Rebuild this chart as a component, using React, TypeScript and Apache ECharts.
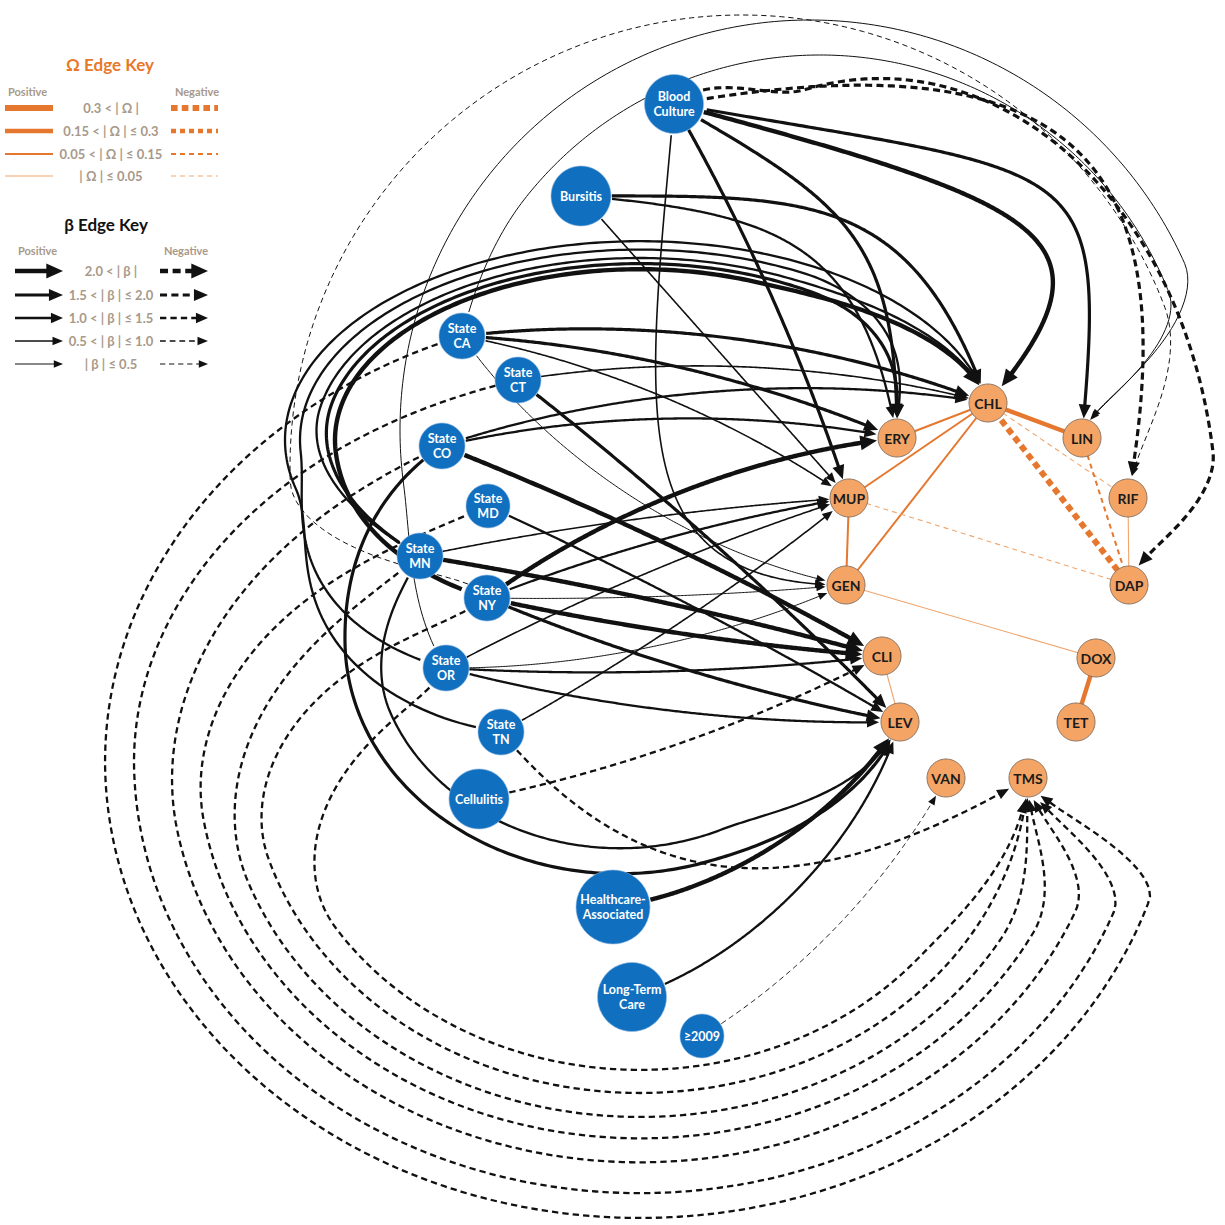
import React, { useEffect, useRef } from "react";
import * as echarts from "echarts";

// ---------------- data ----------------
const nodeIds = ["BC","BUR","CA","CT","CO","MD","MN","NY","OR","TN","CEL","HA","LTC","Y09",
  "CHL","ERY","LIN","MUP","RIF","GEN","DAP","CLI","DOX","LEV","TET","VAN","TMS"];
const nodeLabels = ["Blood\nCulture","Bursitis","State\nCA","State\nCT","State\nCO","State\nMD","State\nMN","State\nNY","State\nOR","State\nTN","Cellulitis","Healthcare-\nAssociated","Long-Term\nCare","≥2009",
  "CHL","ERY","LIN","MUP","RIF","GEN","DAP","CLI","DOX","LEV","TET","VAN","TMS"];
const nodeKinds = ["cov","cov","cov","cov","cov","cov","cov","cov","cov","cov","cov","cov","cov","cov",
  "abx","abx","abx","abx","abx","abx","abx","abx","abx","abx","abx","abx","abx"];

// directed covariate -> antibiotic effects (beta)
const betaEdges: [string, string, number][] = [
  ["BC","CHL",2.6],["BC","LIN",1.8],["BC","ERY",1.7],["BC","MUP",1.9],["BC","GEN",0.7],["BC","RIF",-1.7],["BC","DAP",-1.8],
  ["BUR","CHL",1.6],["BUR","ERY",1.3],["BUR","MUP",0.7],
  ["CA","CHL",1.8],["CA","ERY",1.6],["CA","MUP",0.9],["CA","GEN",0.4],["CA","LIN",0.3],["CA","TMS",-1.3],
  ["CT","CHL",0.8],["CT","LEV",1.7],["CT","TMS",-1.3],
  ["CO","ERY",1.4],["CO","CHL",1.2],["CO","CLI",2.2],["CO","LEV",1.8],["CO","TMS",-1.3],
  ["MD","LEV",1.3],["MD","TMS",-1.3],
  ["MN","CLI",2.1],["MN","MUP",0.6],["MN","CHL",1.4],["MN","ERY",1.6],["MN","LEV",1.3],["MN","TMS",-1.3],
  ["NY","ERY",2.2],["NY","MUP",1.1],["NY","GEN",0.4],["NY","CLI",2.2],["NY","LEV",1.6],["NY","CHL",2.1],["NY","RIF",-0.4],["NY","TMS",-1.3],
  ["OR","MUP",0.8],["OR","GEN",0.4],["OR","CLI",1.4],["OR","LEV",1.3],["OR","LIN",0.3],["OR","ERY",1.2],["OR","TMS",-1.3],
  ["TN","MUP",0.9],["TN","CHL",1.1],["TN","TMS",-1.2],
  ["CEL","CLI",-1.2],["HA","LEV",2.4],["LTC","LEV",1.3],["Y09","VAN",-0.4],
];

// undirected antibiotic-antibiotic associations (omega)
const omegaEdges: [string, string, number][] = [
  ["CHL","LIN",0.25],["CHL","DAP",-0.35],["CHL","ERY",0.1],["CHL","MUP",0.1],["CHL","GEN",0.1],["CHL","RIF",-0.04],
  ["LIN","DAP",-0.1],["MUP","GEN",0.1],["MUP","DAP",-0.04],["RIF","DAP",0.04],["GEN","DOX",0.04],["CLI","LEV",0.04],["DOX","TET",0.25],
];

// legend classes
const betaThresholds = [2.0, 1.5, 1.0, 0.5, 0];
const betaLegendLabels = ["2.0 < | β |", "1.5 < | β | ≤ 2.0", "1.0 < | β | ≤ 1.5", "0.5 < | β | ≤ 1.0", "| β | ≤ 0.5"];
const omegaThresholds = [0.3, 0.15, 0.05, 0];
const omegaLegendLabels = ["0.3 < | Ω |", "0.15 < | Ω | ≤ 0.3", "0.05 < | Ω | ≤ 0.15", "| Ω | ≤ 0.05"];

// ---------------- layout & style ----------------
const nodeX = [674,581,462,518,442,488,420,487,446,501,479,613,632,702, 988,897,1082,849,1128,846,1129,882,1096,900,1076,946,1028];
const nodeY = [104,196,336,380,446,506,556,598,668,732,799,907,997,1036, 403,438,438,498,498,585,585,656,658,722,722,778,778];
const nodeDiam = [59,60,46,46,46,44,46,46,46,46,60,74,69,44, 38,38,38,38,38,38,38,38,38,38,38,38,38];

// edge routing: number = bend (deg); {a:[outDeg,inDeg,k1,k2]} = cubic; {c:[cx,cy],R,sy,dir,t1,t2} = arc around a pivot
const tms = (R: number, t2: number) => ({ c: [640, 760], R, sy: 0.856, dir: -1, t1: 0.3, t2 });
const betaRoutes: any[] = [
  { a: [15, -50, 0.9, 0.5] }, { a: [10, -85, 0.8, 0.55] }, { a: [30, -90, 0.5, 0.5] }, -6, { a: [95, 180, 0.6, 0.45] }, { a: [-10, -80, 0.7, 0.55] }, { c: [880, 520], R: 337, sy: 1.31, dir: 1, t1: 0.15, t2: 0.15 },
  { a: [0, -110, 0.5, 0.5] }, { a: [5, -100, 0.5, 0.5] }, 0,
  -14, -10, -12, 22, { c: [820, 430], R: 375, dir: 1, t1: 0.14, t2: 0.14 }, tms(535, 0.06),
  -12, -4, tms(506, 0.07),
  -12, -14, -4, { c: [620, 640], R: 275, sy: 0.85, dir: -1 }, tms(470, 0.08),
  -3, tms(442, 0.1),
  -3, -4, { c: [640, 440], R: 325, sy: 0.56, dir: 1 }, { c: [640, 440], R: 315, sy: 0.56, dir: 1 }, { c: [620, 640], R: 245, sy: 0.85, dir: -1 }, tms(417, 0.12),
  -15, -6, 3, 4, 6, { c: [640, 440], R: 305, sy: 0.56, dir: 1 }, { c: [742, 467], R: 452, dir: 1, t1: 0.12, t2: 0.12 }, tms(389, 0.15),
  -5, 12, 5, 8, { c: [810, 430], R: 410, dir: 1, t1: 0.12, t2: 0.12 }, { c: [640, 440], R: 340, sy: 0.56, dir: 1 }, tms(362, 0.18),
  5, { c: [640, 440], R: 355, sy: 0.56, dir: 1 }, { a: [50, 150, 0.45, 0.45] },
  8, 25, 27, 15,
];

const betaWidths = [4.4, 3.2, 2.3, 1.6, 1.0];
const omegaWidths = [6, 4.4, 2, 1.1];
const BLUE = "#1070BF";
const ORANGE = "#F4A566";
const OMEGA_STRONG = "#E5782E";
const OMEGA_WEAK = "#F0A56C";
const KEY_TEXT = "#A8998A";
const FONT = "Lato, 'Noto Sans', sans-serif";

const D2R = Math.PI / 180;
const idx = (id: string) => nodeIds.indexOf(id);
function betaClass(v: number) { const a = Math.abs(v); for (let i = 0; i < 4; i++) if (a > betaThresholds[i]) return i; return 4; }
function omegaClass(v: number) { const a = Math.abs(v); for (let i = 0; i < 3; i++) if (a > omegaThresholds[i]) return i; return 3; }
const ss = (x: number) => x * x * (3 - 2 * x);

function routePath(si: number, ti: number, route: any): number[][] {
  const x1 = nodeX[si], y1 = nodeY[si], x2 = nodeX[ti], y2 = nodeY[ti];
  const L = Math.hypot(x2 - x1, y2 - y1);
  const N = 260;
  const pts: number[][] = [];
  if (typeof route === "number" || route.a) {
    let a1: number, a2: number, k1: number, k2: number;
    if (typeof route === "number") {
      const th = Math.atan2(y2 - y1, x2 - x1);
      a1 = th + route * D2R; a2 = th + Math.PI - route * D2R; k1 = k2 = 0.33;
    } else {
      a1 = route.a[0] * D2R; a2 = route.a[1] * D2R; k1 = route.a[2]; k2 = route.a[3];
    }
    const c1 = [x1 + k1 * L * Math.cos(a1), y1 + k1 * L * Math.sin(a1)];
    const c2 = [x2 + k2 * L * Math.cos(a2), y2 + k2 * L * Math.sin(a2)];
    for (let i = 0; i <= N; i++) {
      const t = i / N, u = 1 - t;
      pts.push([
        u * u * u * x1 + 3 * u * u * t * c1[0] + 3 * u * t * t * c2[0] + t * t * t * x2,
        u * u * u * y1 + 3 * u * u * t * c1[1] + 3 * u * t * t * c2[1] + t * t * t * y2,
      ]);
    }
  } else {
    const [cx, cy] = route.c; const sy = route.sy || 1; const R = route.R;
    const t1 = route.t1 || 0.25, t2 = route.t2 || 0.25;
    const u1 = x1 - cx, v1 = (y1 - cy) / sy, u2 = x2 - cx, v2 = (y2 - cy) / sy;
    const r1 = Math.hypot(u1, v1), r2 = Math.hypot(u2, v2);
    const p1 = Math.atan2(v1, u1), p2 = Math.atan2(v2, u2);
    let d = p2 - p1;
    if (route.dir > 0) { while (d <= 0) d += 2 * Math.PI; } else { while (d >= 0) d -= 2 * Math.PI; }
    for (let i = 0; i <= N; i++) {
      const f = i / N; const phi = p1 + d * f;
      let r: number;
      if (R == null) r = r1 + (r2 - r1) * f;
      else {
        const w1 = 1 - ss(Math.min(f / t1, 1));
        const w2 = 1 - ss(Math.min((1 - f) / t2, 1));
        r = R + (r1 - R) * w1 + (r2 - R) * w2;
      }
      pts.push([cx + r * Math.cos(phi), cy + sy * r * Math.sin(phi)]);
    }
  }
  return pts;
}

function dashFor(w: number) { return [4.5 + w * 0.8, 3.5 + w * 0.25]; }

function arrowHead(tip: number[], dir: number[], w: number) {
  const len = 7 + 2.2 * w, half = 2.6 + 1.1 * w;
  const bx = tip[0] - dir[0] * len, by = tip[1] - dir[1] * len;
  const px = -dir[1], py = dir[0];
  return { len, poly: [tip, [bx + px * half, by + py * half], [bx - px * half, by - py * half]] };
}

function renderBeta(params: any, api: any) {
  const i = api.value(2);
  const [s, t, beta] = betaEdges[i];
  const si = idx(s), ti = idx(t);
  const raw = routePath(si, ti, betaRoutes[i]).map((p) => api.coord(p));
  const sc = api.size([1, 1])[0];
  const c1 = api.coord([nodeX[si], nodeY[si]]), c2 = api.coord([nodeX[ti], nodeY[ti]]);
  const r1 = (nodeDiam[si] / 2) * sc, r2 = (nodeDiam[ti] / 2) * sc + 0.5;
  let a = 0; while (a < raw.length - 1 && Math.hypot(raw[a][0] - c1[0], raw[a][1] - c1[1]) < r1) a++;
  let b = raw.length - 1; while (b > a && Math.hypot(raw[b][0] - c2[0], raw[b][1] - c2[1]) < r2) b--;
  const pts = raw.slice(a, b + 1);
  const w = betaWidths[betaClass(beta)];
  const tip = pts[pts.length - 1];
  const lenA = 7 + 2.2 * w;
  let k = pts.length - 1;
  while (k > 0 && Math.hypot(pts[k][0] - tip[0], pts[k][1] - tip[1]) < lenA) k--;
  const dx = tip[0] - pts[k][0], dy = tip[1] - pts[k][1];
  const dl = Math.hypot(dx, dy) || 1;
  const dir = [dx / dl, dy / dl];
  const ah = arrowHead(tip, dir, w);
  const line = pts.slice(0, k + 1);
  line.push([tip[0] - dir[0] * ah.len * 0.75, tip[1] - dir[1] * ah.len * 0.75]);
  return {
    type: "group",
    children: [
      { type: "polyline", shape: { points: line }, style: { stroke: "#111", lineWidth: w, fill: "none", lineDash: beta < 0 ? dashFor(w) : null } },
      { type: "polygon", shape: { points: ah.poly }, style: { fill: "#111", stroke: "none" } },
    ],
  };
}

function renderOmega(params: any, api: any) {
  const i = api.value(2);
  const [s, t, om] = omegaEdges[i];
  const si = idx(s), ti = idx(t);
  const p1 = api.coord([nodeX[si], nodeY[si]]), p2 = api.coord([nodeX[ti], nodeY[ti]]);
  const c = omegaClass(om);
  const w = omegaWidths[c];
  return {
    type: "line",
    shape: { x1: p1[0], y1: p1[1], x2: p2[0], y2: p2[1] },
    style: {
      stroke: c <= 2 ? OMEGA_STRONG : OMEGA_WEAK,
      lineWidth: w,
      lineDash: om < 0 ? [Math.max(5, w * 1.1), Math.max(4, w * 0.7)] : null,
    },
  };
}

function txt(x: number, y: number, text: string, fill: string, size: number, align = "center") {
  return {
    type: "text", x, y, silent: true,
    style: { text, fill, font: `bold ${size}px ${FONT}`, fontSize: size, fontWeight: "bold", fontFamily: FONT,
      align, textAlign: align, verticalAlign: "middle", textVerticalAlign: "middle" },
  };
}

function buildLegend() {
  const els: any[] = [];
  els.push(txt(110, 64, "Ω Edge Key", "#E8782A", 17));
  els.push(txt(8, 91, "Positive", KEY_TEXT, 11, "left"));
  els.push(txt(219, 91, "Negative", KEY_TEXT, 11, "right"));
  const oy = [108, 131, 154, 176];
  omegaLegendLabels.forEach((lab, i) => {
    const w = omegaWidths[i];
    const col = i <= 2 ? OMEGA_STRONG : OMEGA_WEAK;
    els.push({ type: "line", silent: true, shape: { x1: 5, y1: oy[i], x2: 53, y2: oy[i] }, style: { stroke: col, lineWidth: w } });
    els.push(txt(111, oy[i], lab, KEY_TEXT, 13));
    els.push({ type: "line", silent: true, shape: { x1: 171, y1: oy[i], x2: 218, y2: oy[i] }, style: { stroke: col, lineWidth: w, lineDash: [Math.max(5, w * 1.1), Math.max(4, w * 0.7)] } });
  });
  els.push(txt(106, 224, "β Edge Key", "#111", 17));
  els.push(txt(18, 250, "Positive", KEY_TEXT, 11, "left"));
  els.push(txt(208, 250, "Negative", KEY_TEXT, 11, "right"));
  const by = [271, 295, 318, 341, 364];
  betaLegendLabels.forEach((lab, i) => {
    const w = betaWidths[i];
    const len = 7 + 2.2 * w, half = 2.6 + 1.1 * w;
    const y = by[i];
    [[15, 63, false], [160, 208, true]].forEach(([x0, x1, neg]: any) => {
      els.push({ type: "line", silent: true, shape: { x1: x0, y1: y, x2: x1 - len * 0.75, y2: y }, style: { stroke: "#111", lineWidth: w, lineDash: neg ? dashFor(w) : null } });
      els.push({ type: "polygon", silent: true, shape: { points: [[x1, y], [x1 - len, y - half], [x1 - len, y + half]] }, style: { fill: "#111" } });
    });
    els.push(txt(111, y, lab, KEY_TEXT, 13));
  });
  return els;
}

export default function App() {
  const ref = useRef<HTMLDivElement>(null);
  useEffect(() => {
    if (!ref.current) return;
    const chart = echarts.init(ref.current, null, { renderer: "svg" });
    const option: any = {
      animation: false,
      backgroundColor: "#ffffff",
      grid: { left: 0, right: 0, top: 0, bottom: 0, containLabel: false },
      xAxis: { type: "value", min: 0, max: 1225, show: false },
      yAxis: { type: "value", min: 0, max: 1225, inverse: true, show: false },
      graphic: buildLegend(),
      series: [
        {
          type: "custom", name: "omega", coordinateSystem: "cartesian2d", clip: false, silent: true, z: 1,
          encode: { x: 0, y: 1 },
          data: omegaEdges.map((e, i) => [nodeX[idx(e[0])], nodeY[idx(e[0])], i]),
          renderItem: renderOmega,
        },
        {
          type: "custom", name: "beta", coordinateSystem: "cartesian2d", clip: false, silent: true, z: 2,
          encode: { x: 0, y: 1 },
          data: betaEdges.map((e, i) => [nodeX[idx(e[0])], nodeY[idx(e[0])], i]),
          renderItem: renderBeta,
        },
        {
          type: "scatter", name: "nodes", z: 5, silent: true,
          data: nodeIds.map((id, i) => {
            const cov = nodeKinds[i] === "cov";
            return {
              name: id,
              value: [nodeX[i], nodeY[i]],
              symbolSize: nodeDiam[i],
              itemStyle: { color: cov ? BLUE : ORANGE, borderColor: cov ? "#8DB6E0" : "#8E7562", borderWidth: cov ? 0.6 : 1, opacity: 1 },
              label: {
                show: true, position: "inside", formatter: nodeLabels[i],
                color: cov ? "#ffffff" : "#1b1b1b", fontSize: cov ? 12.5 : 14, fontWeight: "bold",
                fontFamily: FONT, lineHeight: 15,
              },
            };
          }),
        },
      ],
    };
    chart.setOption(option);
    return () => chart.dispose();
  }, []);
  return <div ref={ref} style={{ position: "absolute", left: 0, top: 0, width: 1225, height: 1225 }} />;
}
